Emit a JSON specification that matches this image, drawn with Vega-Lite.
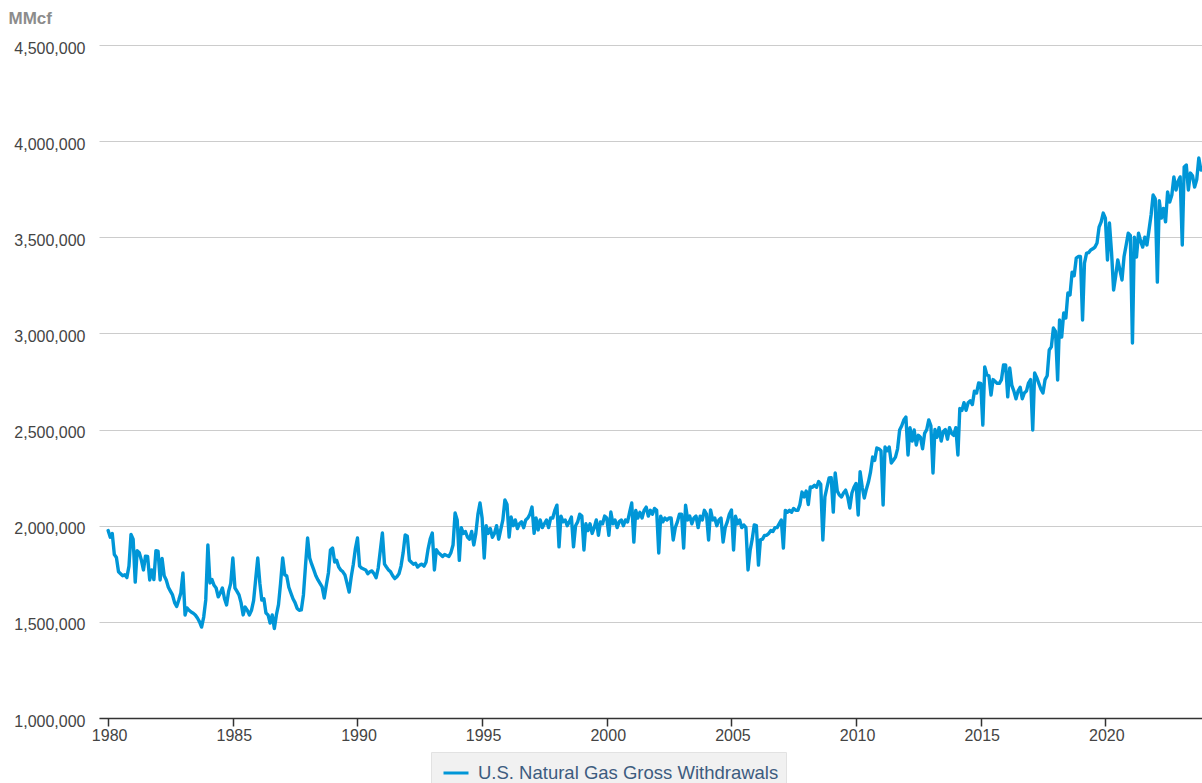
{
"$schema": "https://vega.github.io/schema/vega-lite/v6.json",
"width": 1103, "height": 673,
"autosize": {"type": "none"},
"padding": {"left": 99, "top": 45, "right": 0, "bottom": 65},
"background": "white",
"config": {"view": {"stroke": null}, "font": "Liberation Sans"},
"datasets": {"gas": [
{"t":"1980-01","v":1975000},{"t":"1980-02","v":1940000},{"t":"1980-03","v":1960000},{"t":"1980-04","v":1850000},{"t":"1980-05","v":1835000},{"t":"1980-06","v":1760000},{"t":"1980-07","v":1750000},{"t":"1980-08","v":1740000},{"t":"1980-09","v":1745000},{"t":"1980-10","v":1730000},{"t":"1980-11","v":1790000},{"t":"1980-12","v":1955000},
{"t":"1981-01","v":1930000},{"t":"1981-02","v":1707000},{"t":"1981-03","v":1870000},{"t":"1981-04","v":1860000},{"t":"1981-05","v":1822000},{"t":"1981-06","v":1770000},{"t":"1981-07","v":1842000},{"t":"1981-08","v":1840000},{"t":"1981-09","v":1718000},{"t":"1981-10","v":1770000},{"t":"1981-11","v":1720000},{"t":"1981-12","v":1870000},
{"t":"1982-01","v":1868000},{"t":"1982-02","v":1718000},{"t":"1982-03","v":1830000},{"t":"1982-04","v":1740000},{"t":"1982-05","v":1718000},{"t":"1982-06","v":1680000},{"t":"1982-07","v":1660000},{"t":"1982-08","v":1640000},{"t":"1982-09","v":1600000},{"t":"1982-10","v":1580000},{"t":"1982-11","v":1614000},{"t":"1982-12","v":1650000},
{"t":"1983-01","v":1754000},{"t":"1983-02","v":1536000},{"t":"1983-03","v":1572000},{"t":"1983-04","v":1560000},{"t":"1983-05","v":1551000},{"t":"1983-06","v":1545000},{"t":"1983-07","v":1536000},{"t":"1983-08","v":1520000},{"t":"1983-09","v":1500000},{"t":"1983-10","v":1473000},{"t":"1983-11","v":1525000},{"t":"1983-12","v":1614000},
{"t":"1984-01","v":1900000},{"t":"1984-02","v":1702000},{"t":"1984-03","v":1720000},{"t":"1984-04","v":1690000},{"t":"1984-05","v":1676000},{"t":"1984-06","v":1630000},{"t":"1984-07","v":1650000},{"t":"1984-08","v":1676000},{"t":"1984-09","v":1620000},{"t":"1984-10","v":1588000},{"t":"1984-11","v":1660000},{"t":"1984-12","v":1700000},
{"t":"1985-01","v":1832000},{"t":"1985-02","v":1676000},{"t":"1985-03","v":1660000},{"t":"1985-04","v":1640000},{"t":"1985-05","v":1600000},{"t":"1985-06","v":1536000},{"t":"1985-07","v":1577000},{"t":"1985-08","v":1560000},{"t":"1985-09","v":1536000},{"t":"1985-10","v":1560000},{"t":"1985-11","v":1610000},{"t":"1985-12","v":1720000},
{"t":"1986-01","v":1832000},{"t":"1986-02","v":1700000},{"t":"1986-03","v":1614000},{"t":"1986-04","v":1620000},{"t":"1986-05","v":1546000},{"t":"1986-06","v":1536000},{"t":"1986-07","v":1494000},{"t":"1986-08","v":1536000},{"t":"1986-09","v":1465000},{"t":"1986-10","v":1536000},{"t":"1986-11","v":1590000},{"t":"1986-12","v":1700000},
{"t":"1987-01","v":1832000},{"t":"1987-02","v":1744000},{"t":"1987-03","v":1740000},{"t":"1987-04","v":1680000},{"t":"1987-05","v":1650000},{"t":"1987-06","v":1620000},{"t":"1987-07","v":1600000},{"t":"1987-08","v":1570000},{"t":"1987-09","v":1560000},{"t":"1987-10","v":1562000},{"t":"1987-11","v":1640000},{"t":"1987-12","v":1790000},
{"t":"1988-01","v":1936000},{"t":"1988-02","v":1832000},{"t":"1988-03","v":1800000},{"t":"1988-04","v":1770000},{"t":"1988-05","v":1740000},{"t":"1988-06","v":1718000},{"t":"1988-07","v":1700000},{"t":"1988-08","v":1682000},{"t":"1988-09","v":1624000},{"t":"1988-10","v":1690000},{"t":"1988-11","v":1754000},{"t":"1988-12","v":1874000},
{"t":"1989-01","v":1884000},{"t":"1989-02","v":1811000},{"t":"1989-03","v":1820000},{"t":"1989-04","v":1785000},{"t":"1989-05","v":1770000},{"t":"1989-06","v":1760000},{"t":"1989-07","v":1744000},{"t":"1989-08","v":1700000},{"t":"1989-09","v":1655000},{"t":"1989-10","v":1733000},{"t":"1989-11","v":1800000},{"t":"1989-12","v":1880000},
{"t":"1990-01","v":1936000},{"t":"1990-02","v":1790000},{"t":"1990-03","v":1780000},{"t":"1990-04","v":1775000},{"t":"1990-05","v":1770000},{"t":"1990-06","v":1750000},{"t":"1990-07","v":1760000},{"t":"1990-08","v":1765000},{"t":"1990-09","v":1750000},{"t":"1990-10","v":1730000},{"t":"1990-11","v":1780000},{"t":"1990-12","v":1870000},
{"t":"1991-01","v":1962000},{"t":"1991-02","v":1800000},{"t":"1991-03","v":1785000},{"t":"1991-04","v":1770000},{"t":"1991-05","v":1760000},{"t":"1991-06","v":1740000},{"t":"1991-07","v":1725000},{"t":"1991-08","v":1735000},{"t":"1991-09","v":1750000},{"t":"1991-10","v":1790000},{"t":"1991-11","v":1860000},{"t":"1991-12","v":1952000},
{"t":"1992-01","v":1945000},{"t":"1992-02","v":1820000},{"t":"1992-03","v":1810000},{"t":"1992-04","v":1800000},{"t":"1992-05","v":1805000},{"t":"1992-06","v":1785000},{"t":"1992-07","v":1795000},{"t":"1992-08","v":1800000},{"t":"1992-09","v":1790000},{"t":"1992-10","v":1810000},{"t":"1992-11","v":1880000},{"t":"1992-12","v":1930000},
{"t":"1993-01","v":1962000},{"t":"1993-02","v":1770000},{"t":"1993-03","v":1875000},{"t":"1993-04","v":1860000},{"t":"1993-05","v":1850000},{"t":"1993-06","v":1840000},{"t":"1993-07","v":1850000},{"t":"1993-08","v":1845000},{"t":"1993-09","v":1840000},{"t":"1993-10","v":1860000},{"t":"1993-11","v":1900000},{"t":"1993-12","v":2066000},
{"t":"1994-01","v":2030000},{"t":"1994-02","v":1820000},{"t":"1994-03","v":1990000},{"t":"1994-04","v":1960000},{"t":"1994-05","v":1970000},{"t":"1994-06","v":1940000},{"t":"1994-07","v":1930000},{"t":"1994-08","v":1970000},{"t":"1994-09","v":1900000},{"t":"1994-10","v":1960000},{"t":"1994-11","v":2060000},{"t":"1994-12","v":2118000},
{"t":"1995-01","v":2040000},{"t":"1995-02","v":1832000},{"t":"1995-03","v":2000000},{"t":"1995-04","v":1960000},{"t":"1995-05","v":1985000},{"t":"1995-06","v":1940000},{"t":"1995-07","v":1960000},{"t":"1995-08","v":2000000},{"t":"1995-09","v":1930000},{"t":"1995-10","v":1980000},{"t":"1995-11","v":2030000},{"t":"1995-12","v":2134000},
{"t":"1996-01","v":2110000},{"t":"1996-02","v":1941000},{"t":"1996-03","v":2045000},{"t":"1996-04","v":2000000},{"t":"1996-05","v":2030000},{"t":"1996-06","v":1985000},{"t":"1996-07","v":2010000},{"t":"1996-08","v":2020000},{"t":"1996-09","v":1990000},{"t":"1996-10","v":2030000},{"t":"1996-11","v":2040000},{"t":"1996-12","v":2060000},
{"t":"1997-01","v":2097000},{"t":"1997-02","v":1960000},{"t":"1997-03","v":2040000},{"t":"1997-04","v":1978000},{"t":"1997-05","v":2030000},{"t":"1997-06","v":1990000},{"t":"1997-07","v":2010000},{"t":"1997-08","v":2030000},{"t":"1997-09","v":1990000},{"t":"1997-10","v":2040000},{"t":"1997-11","v":2040000},{"t":"1997-12","v":2080000},
{"t":"1998-01","v":2107000},{"t":"1998-02","v":1890000},{"t":"1998-03","v":2050000},{"t":"1998-04","v":2020000},{"t":"1998-05","v":2030000},{"t":"1998-06","v":2000000},{"t":"1998-07","v":2020000},{"t":"1998-08","v":2045000},{"t":"1998-09","v":1890000},{"t":"1998-10","v":2000000},{"t":"1998-11","v":2020000},{"t":"1998-12","v":2060000},
{"t":"1999-01","v":2050000},{"t":"1999-02","v":1874000},{"t":"1999-03","v":2010000},{"t":"1999-04","v":1975000},{"t":"1999-05","v":2010000},{"t":"1999-06","v":1960000},{"t":"1999-07","v":1990000},{"t":"1999-08","v":2030000},{"t":"1999-09","v":1950000},{"t":"1999-10","v":2020000},{"t":"1999-11","v":2010000},{"t":"1999-12","v":2050000},
{"t":"2000-01","v":2040000},{"t":"2000-02","v":1950000},{"t":"2000-03","v":2071000},{"t":"2000-04","v":2010000},{"t":"2000-05","v":2030000},{"t":"2000-06","v":1990000},{"t":"2000-07","v":2020000},{"t":"2000-08","v":2030000},{"t":"2000-09","v":2000000},{"t":"2000-10","v":2030000},{"t":"2000-11","v":2020000},{"t":"2000-12","v":2070000},
{"t":"2001-01","v":2118000},{"t":"2001-02","v":1915000},{"t":"2001-03","v":2080000},{"t":"2001-04","v":2040000},{"t":"2001-05","v":2070000},{"t":"2001-06","v":2040000},{"t":"2001-07","v":2080000},{"t":"2001-08","v":2097000},{"t":"2001-09","v":2050000},{"t":"2001-10","v":2080000},{"t":"2001-11","v":2060000},{"t":"2001-12","v":2090000},
{"t":"2002-01","v":2080000},{"t":"2002-02","v":1858000},{"t":"2002-03","v":2050000},{"t":"2002-04","v":2020000},{"t":"2002-05","v":2040000},{"t":"2002-06","v":2030000},{"t":"2002-07","v":2040000},{"t":"2002-08","v":2040000},{"t":"2002-09","v":1926000},{"t":"2002-10","v":1990000},{"t":"2002-11","v":2020000},{"t":"2002-12","v":2060000},
{"t":"2003-01","v":2060000},{"t":"2003-02","v":1884000},{"t":"2003-03","v":2107000},{"t":"2003-04","v":2030000},{"t":"2003-05","v":2050000},{"t":"2003-06","v":2010000},{"t":"2003-07","v":2040000},{"t":"2003-08","v":2050000},{"t":"2003-09","v":1990000},{"t":"2003-10","v":2050000},{"t":"2003-11","v":2030000},{"t":"2003-12","v":2080000},
{"t":"2004-01","v":2060000},{"t":"2004-02","v":1926000},{"t":"2004-03","v":2082000},{"t":"2004-04","v":2030000},{"t":"2004-05","v":2040000},{"t":"2004-06","v":2000000},{"t":"2004-07","v":2030000},{"t":"2004-08","v":2040000},{"t":"2004-09","v":1915000},{"t":"2004-10","v":1990000},{"t":"2004-11","v":2020000},{"t":"2004-12","v":2060000},
{"t":"2005-01","v":2082000},{"t":"2005-02","v":1874000},{"t":"2005-03","v":2050000},{"t":"2005-04","v":2010000},{"t":"2005-05","v":2030000},{"t":"2005-06","v":1990000},{"t":"2005-07","v":2004000},{"t":"2005-08","v":1990000},{"t":"2005-09","v":1770000},{"t":"2005-10","v":1870000},{"t":"2005-11","v":1930000},{"t":"2005-12","v":2004000},
{"t":"2006-01","v":2000000},{"t":"2006-02","v":1795000},{"t":"2006-03","v":1926000},{"t":"2006-04","v":1930000},{"t":"2006-05","v":1950000},{"t":"2006-06","v":1950000},{"t":"2006-07","v":1960000},{"t":"2006-08","v":1975000},{"t":"2006-09","v":1970000},{"t":"2006-10","v":1990000},{"t":"2006-11","v":1990000},{"t":"2006-12","v":2010000},
{"t":"2007-01","v":2030000},{"t":"2007-02","v":1884000},{"t":"2007-03","v":2080000},{"t":"2007-04","v":2070000},{"t":"2007-05","v":2080000},{"t":"2007-06","v":2070000},{"t":"2007-07","v":2090000},{"t":"2007-08","v":2080000},{"t":"2007-09","v":2080000},{"t":"2007-10","v":2110000},{"t":"2007-11","v":2175000},{"t":"2007-12","v":2150000},
{"t":"2008-01","v":2180000},{"t":"2008-02","v":2110000},{"t":"2008-03","v":2201000},{"t":"2008-04","v":2200000},{"t":"2008-05","v":2210000},{"t":"2008-06","v":2200000},{"t":"2008-07","v":2230000},{"t":"2008-08","v":2215000},{"t":"2008-09","v":1926000},{"t":"2008-10","v":2150000},{"t":"2008-11","v":2200000},{"t":"2008-12","v":2248000},
{"t":"2009-01","v":2250000},{"t":"2009-02","v":2071000},{"t":"2009-03","v":2274000},{"t":"2009-04","v":2180000},{"t":"2009-05","v":2160000},{"t":"2009-06","v":2150000},{"t":"2009-07","v":2170000},{"t":"2009-08","v":2185000},{"t":"2009-09","v":2150000},{"t":"2009-10","v":2092000},{"t":"2009-11","v":2170000},{"t":"2009-12","v":2200000},
{"t":"2010-01","v":2220000},{"t":"2010-02","v":2056000},{"t":"2010-03","v":2281000},{"t":"2010-04","v":2200000},{"t":"2010-05","v":2144000},{"t":"2010-06","v":2190000},{"t":"2010-07","v":2227000},{"t":"2010-08","v":2280000},{"t":"2010-09","v":2357000},{"t":"2010-10","v":2340000},{"t":"2010-11","v":2404000},{"t":"2010-12","v":2400000},
{"t":"2011-01","v":2390000},{"t":"2011-02","v":2108000},{"t":"2011-03","v":2409000},{"t":"2011-04","v":2390000},{"t":"2011-05","v":2409000},{"t":"2011-06","v":2326000},{"t":"2011-07","v":2340000},{"t":"2011-08","v":2357000},{"t":"2011-09","v":2400000},{"t":"2011-10","v":2498000},{"t":"2011-11","v":2520000},{"t":"2011-12","v":2550000},
{"t":"2012-01","v":2565000},{"t":"2012-02","v":2368000},{"t":"2012-03","v":2510000},{"t":"2012-04","v":2440000},{"t":"2012-05","v":2498000},{"t":"2012-06","v":2420000},{"t":"2012-07","v":2470000},{"t":"2012-08","v":2460000},{"t":"2012-09","v":2400000},{"t":"2012-10","v":2480000},{"t":"2012-11","v":2500000},{"t":"2012-12","v":2550000},
{"t":"2013-01","v":2520000},{"t":"2013-02","v":2274000},{"t":"2013-03","v":2500000},{"t":"2013-04","v":2460000},{"t":"2013-05","v":2510000},{"t":"2013-06","v":2440000},{"t":"2013-07","v":2490000},{"t":"2013-08","v":2500000},{"t":"2013-09","v":2450000},{"t":"2013-10","v":2510000},{"t":"2013-11","v":2480000},{"t":"2013-12","v":2470000},
{"t":"2014-01","v":2510000},{"t":"2014-02","v":2368000},{"t":"2014-03","v":2610000},{"t":"2014-04","v":2600000},{"t":"2014-05","v":2640000},{"t":"2014-06","v":2600000},{"t":"2014-07","v":2640000},{"t":"2014-08","v":2650000},{"t":"2014-09","v":2630000},{"t":"2014-10","v":2700000},{"t":"2014-11","v":2690000},{"t":"2014-12","v":2742000},
{"t":"2015-01","v":2740000},{"t":"2015-02","v":2523000},{"t":"2015-03","v":2826000},{"t":"2015-04","v":2784000},{"t":"2015-05","v":2780000},{"t":"2015-06","v":2680000},{"t":"2015-07","v":2760000},{"t":"2015-08","v":2750000},{"t":"2015-09","v":2740000},{"t":"2015-10","v":2740000},{"t":"2015-11","v":2760000},{"t":"2015-12","v":2836000},
{"t":"2016-01","v":2836000},{"t":"2016-02","v":2670000},{"t":"2016-03","v":2820000},{"t":"2016-04","v":2730000},{"t":"2016-05","v":2700000},{"t":"2016-06","v":2660000},{"t":"2016-07","v":2700000},{"t":"2016-08","v":2720000},{"t":"2016-09","v":2660000},{"t":"2016-10","v":2690000},{"t":"2016-11","v":2700000},{"t":"2016-12","v":2742000},
{"t":"2017-01","v":2760000},{"t":"2017-02","v":2498000},{"t":"2017-03","v":2794000},{"t":"2017-04","v":2770000},{"t":"2017-05","v":2740000},{"t":"2017-06","v":2710000},{"t":"2017-07","v":2690000},{"t":"2017-08","v":2760000},{"t":"2017-09","v":2780000},{"t":"2017-10","v":2914000},{"t":"2017-11","v":2930000},{"t":"2017-12","v":3028000},
{"t":"2018-01","v":3010000},{"t":"2018-02","v":2758000},{"t":"2018-03","v":3070000},{"t":"2018-04","v":2981000},{"t":"2018-05","v":3106000},{"t":"2018-06","v":3080000},{"t":"2018-07","v":3210000},{"t":"2018-08","v":3200000},{"t":"2018-09","v":3319000},{"t":"2018-10","v":3300000},{"t":"2018-11","v":3392000},{"t":"2018-12","v":3400000},
{"t":"2019-01","v":3400000},{"t":"2019-02","v":3070000},{"t":"2019-03","v":3366000},{"t":"2019-04","v":3418000},{"t":"2019-05","v":3420000},{"t":"2019-06","v":3434000},{"t":"2019-07","v":3440000},{"t":"2019-08","v":3449000},{"t":"2019-09","v":3470000},{"t":"2019-10","v":3553000},{"t":"2019-11","v":3580000},{"t":"2019-12","v":3626000},
{"t":"2020-01","v":3600000},{"t":"2020-02","v":3382000},{"t":"2020-03","v":3574000},{"t":"2020-04","v":3420000},{"t":"2020-05","v":3226000},{"t":"2020-06","v":3300000},{"t":"2020-07","v":3382000},{"t":"2020-08","v":3330000},{"t":"2020-09","v":3278000},{"t":"2020-10","v":3400000},{"t":"2020-11","v":3460000},{"t":"2020-12","v":3521000},
{"t":"2021-01","v":3510000},{"t":"2021-02","v":2950000},{"t":"2021-03","v":3500000},{"t":"2021-04","v":3397000},{"t":"2021-05","v":3521000},{"t":"2021-06","v":3480000},{"t":"2021-07","v":3449000},{"t":"2021-08","v":3500000},{"t":"2021-09","v":3460000},{"t":"2021-10","v":3537000},{"t":"2021-11","v":3616000},{"t":"2021-12","v":3720000},
{"t":"2022-01","v":3700000},{"t":"2022-02","v":3267000},{"t":"2022-03","v":3690000},{"t":"2022-04","v":3600000},{"t":"2022-05","v":3650000},{"t":"2022-06","v":3580000},{"t":"2022-07","v":3736000},{"t":"2022-08","v":3683000},{"t":"2022-09","v":3720000},{"t":"2022-10","v":3814000},{"t":"2022-11","v":3746000},{"t":"2022-12","v":3790000},
{"t":"2023-01","v":3814000},{"t":"2023-02","v":3460000},{"t":"2023-03","v":3866000},{"t":"2023-04","v":3876000},{"t":"2023-05","v":3746000},{"t":"2023-06","v":3834000},{"t":"2023-07","v":3820000},{"t":"2023-08","v":3761000},{"t":"2023-09","v":3800000},{"t":"2023-10","v":3912000},{"t":"2023-11","v":3850000}
]},
"data": {"name": "gas"},
"mark": {"type": "line", "strokeWidth": 3.4, "strokeJoin": "round", "strokeCap": "round"},
"encoding": {
  "x": {"field": "t", "type": "temporal",
    "scale": {"type": "utc", "domain": [{"year": 1979, "month": 8, "date": 20, "utc": true}, {"year": 2023, "month": 11, "date": 17, "utc": true}]},
    "axis": {"title": null, "format": "%Y", "grid": false,
      "values": [{"year": 1980, "utc": true}, {"year": 1985, "utc": true}, {"year": 1990, "utc": true}, {"year": 1995, "utc": true}, {"year": 2000, "utc": true}, {"year": 2005, "utc": true}, {"year": 2010, "utc": true}, {"year": 2015, "utc": true}, {"year": 2020, "utc": true}],
      "domainColor": "#333333", "domainWidth": 1.5, "tickColor": "#333333", "tickWidth": 1.5, "tickSize": 8,
      "labelFontSize": 16, "labelColor": "#444444", "labelPadding": 1, "labelFlush": false, "labelOverlap": false, "labelOffset": 1}},
  "y": {"field": "v", "type": "quantitative",
    "scale": {"domain": [1000000, 4500000], "nice": false, "zero": false},
    "axis": {"title": "MMcf", "titleAngle": 0, "titleX": -91, "titleY": -27, "titleAlign": "left", "titleBaseline": "middle",
      "titleFontSize": 17, "titleFontWeight": "bold", "titleColor": "#8c8c8c",
      "values": [1000000, 1500000, 2000000, 2500000, 3000000, 3500000, 4000000, 4500000], "format": ",d",
      "domain": false, "ticks": false, "grid": true, "gridColor": "#cccccc", "gridWidth": 1,
      "labelFontSize": 16, "labelColor": "#444444", "labelPadding": 14, "labelOffset": 3}},
  "color": {"datum": "U.S. Natural Gas Gross Withdrawals", "type": "nominal",
    "scale": {"range": ["#0096d7"]},
    "legend": {"orient": "none", "legendX": 332, "legendY": 707, "title": null, "padding": 7,
      "fillColor": "#f1f1f1", "strokeColor": "#e2e2e2", "cornerRadius": 0,
      "symbolType": "stroke", "symbolSize": 625, "symbolStrokeWidth": 3, "symbolOffset": 4,
      "labelFontSize": 18.5, "labelColor": "#3d5c7f", "labelOffset": 8, "labelLimit": 500}}
}
}
